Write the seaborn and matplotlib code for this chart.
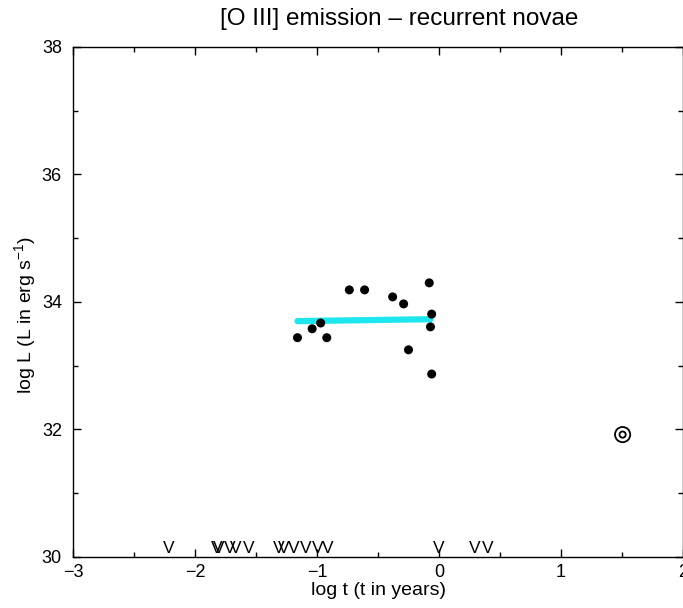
import matplotlib
matplotlib.use('Agg')
import matplotlib.pyplot as plt
import seaborn as sns
import pandas as pd
from matplotlib.ticker import MultipleLocator

# Data
log_t = [-1.16, -1.04, -0.97, -0.92, -0.735, -0.61, -0.38, -0.29,
         -0.25, -0.08, -0.06, -0.07, -0.06]
log_L = [33.44, 33.58, 33.67, 33.44, 34.19, 34.19, 34.08, 33.97,
         33.25, 34.30, 33.81, 33.61, 32.87]

fit_t = [-1.16, -0.07]
fit_L = [33.70, 33.73]

# special object (double circle)
special_t = [1.505]
special_L = [31.92]

# epochs marked with "V" along the bottom axis
v_epochs = [-2.215, -1.823, -1.806, -1.716, -1.667, -1.561,
            -1.316, -1.275, -1.193, -1.095, -0.997, -0.915,
            0.0, 0.29, 0.40]

points_df = pd.DataFrame({'log_t': log_t, 'log_L': log_L})
fit_df = pd.DataFrame({'log_t': fit_t, 'log_L': fit_L})

sns.set_style('ticks')
plt.rcParams['font.family'] = ['Liberation Sans', 'DejaVu Sans']
plt.rcParams['mathtext.fontset'] = 'custom'
plt.rcParams['mathtext.rm'] = 'Liberation Sans'
plt.rcParams['mathtext.it'] = 'Liberation Sans:italic'
plt.rcParams['text.color'] = 'black'
plt.rcParams['axes.labelcolor'] = 'black'

fig = plt.figure(figsize=(6.83, 6.08), dpi=100)
ax = fig.add_axes([0.1069, 0.0839, 0.8931, 0.8388])

sns.lineplot(data=fit_df, x='log_t', y='log_L', color='#1ee6ee', lw=4.5,
             ax=ax, zorder=2)
sns.scatterplot(data=points_df, x='log_t', y='log_L', color='black', s=42,
                edgecolor='none', ax=ax, zorder=3)

ax.scatter(special_t, special_L, s=120, facecolor='none', edgecolor='black',
           linewidth=1.3, zorder=3)
ax.scatter(special_t, special_L, s=20, facecolor='none', edgecolor='black',
           linewidth=1.3, zorder=3)

for t in v_epochs:
    ax.text(t, 30.06, 'V', ha='center', va='baseline', fontsize=12.5)

ax.set_xlim(-3, 2)
ax.set_ylim(30, 38)
ax.xaxis.set_major_locator(MultipleLocator(1))
ax.xaxis.set_minor_locator(MultipleLocator(0.5))
ax.yaxis.set_major_locator(MultipleLocator(2))
ax.yaxis.set_minor_locator(MultipleLocator(1))
ax.tick_params(which='both', direction='in', top=True, right=True,
               labelsize=13, width=1, colors='black')
ax.tick_params(axis='x', which='both', pad=5)
ax.tick_params(axis='y', which='both', pad=8)
ax.tick_params(which='major', length=6)
ax.tick_params(which='minor', length=3.5)
for s in ax.spines.values():
    s.set_linewidth(1)
    s.set_color('black')

ax.set_xlabel('log t (t in years)', fontsize=14, labelpad=1)
ax.set_ylabel(r'log L (L in erg s$^{-1}$)', fontsize=14)
ax.yaxis.set_label_coords(-0.058, 0.474)
ax.set_title('[O III] emission \u2013 recurrent novae', fontsize=17.5,
             x=0.534, pad=16)

fig.savefig('out.png', dpi=100)
